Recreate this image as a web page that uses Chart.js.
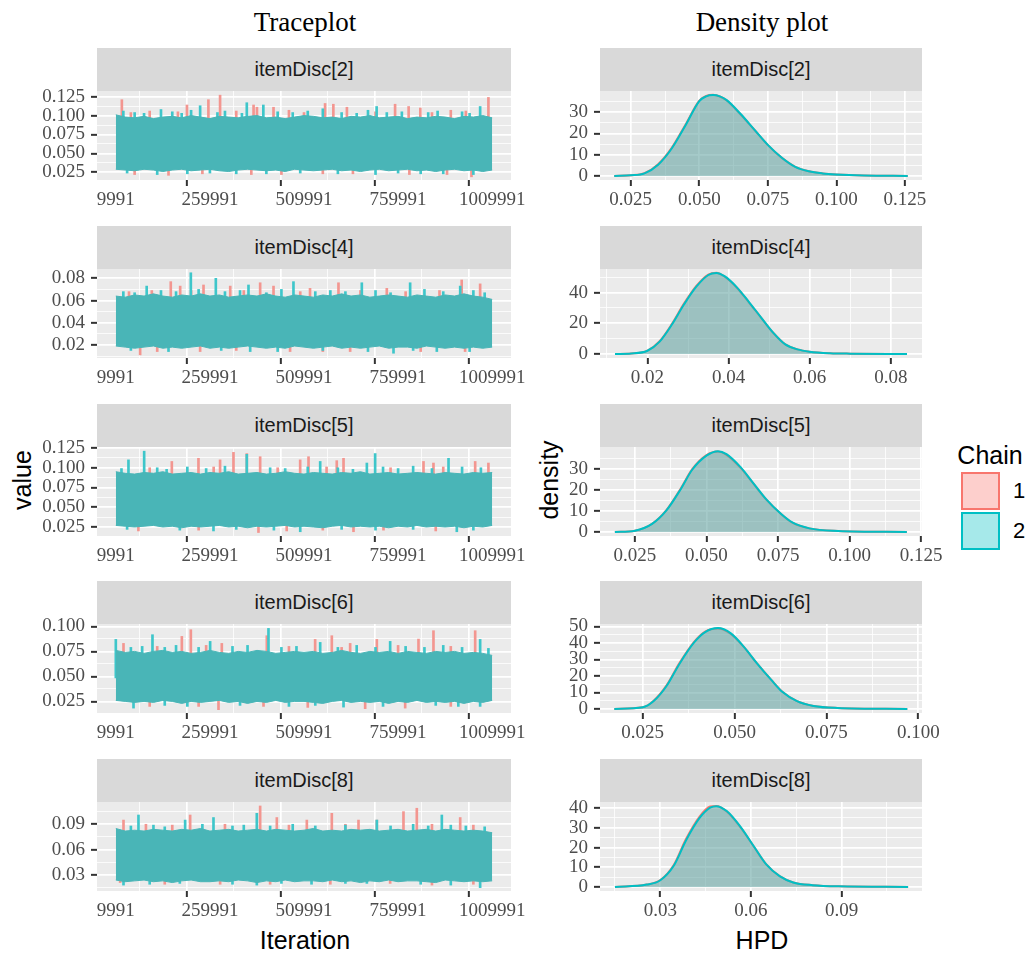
<!DOCTYPE html>
<html>
<head>
<meta charset="utf-8">
<title>Traceplot and density plot</title>
<script src="https://cdn.jsdelivr.net/npm/chart.js@4.4.1/dist/chart.umd.min.js"></script>
<style>
  body { margin: 0; width: 1031px; height: 954px; position: relative; overflow: hidden; background: #fff; font-family: "Liberation Sans", Arial, sans-serif; }
  canvas { position: absolute; }
  .lbl { position: absolute; white-space: nowrap; transform: translate(-50%, -50%); color: #000; }
  .title { font-family: "Liberation Serif", serif; font-size: 27px; }
  .axt { font-size: 25px; }
  .strip { position: absolute; height: 43px; line-height: 43px; background: #D9D9D9; color: #1A1A1A; font-size: 20px; text-align: center; }
  .key { position: absolute; width: 35px; height: 34px; border: 2px solid; }
</style>
</head>
<body>
<div class="lbl title" style="left:305px;top:22px">Traceplot</div>
<div class="lbl title" style="left:762px;top:22px">Density plot</div>
<div class="lbl axt" style="left:22px;top:480px;transform:translate(-50%,-50%) rotate(-90deg)">value</div>
<div class="lbl axt" style="left:549px;top:480px;transform:translate(-50%,-50%) rotate(-90deg)">density</div>
<div class="lbl axt" style="left:305px;top:940px">Iteration</div>
<div class="lbl axt" style="left:762px;top:940px">HPD</div>
<div class="lbl axt" style="left:990px;top:455px">Chain</div>
<div class="key" style="left:961px;top:472px;background:rgba(248,118,109,0.35);border-color:#F8766D"></div>
<div class="key" style="left:961px;top:512px;background:rgba(0,191,196,0.35);border-color:#00BFC4"></div>
<div class="lbl" style="left:1019px;top:491px;font-size:22px">1</div>
<div class="lbl" style="left:1019px;top:531px;font-size:22px">2</div>
<script>
const panelNames = ["itemDisc[2]", "itemDisc[4]", "itemDisc[5]", "itemDisc[6]", "itemDisc[8]"];

const iterGrid = [9991, 34991, 59991, 84991, 109991, 134991, 159991, 184991, 209991, 234991,
  259991, 284991, 309991, 334991, 359991, 384991, 409991, 434991, 459991, 484991,
  509991, 534991, 559991, 584991, 609991, 634991, 659991, 684991, 709991, 734991,
  759991, 784991, 809991, 834991, 859991, 884991, 909991, 934991, 959991, 984991, 1009991];
const iterTicks = ["9991", "259991", "509991", "759991", "1009991"];

// upper / lower edge of the solid trace band
const bandHi2 = [0.101,0.098,0.097,0.099,0.096,0.098,0.099,0.097,0.100,0.098,0.096,0.099,0.098,0.097,0.099,0.100,0.097,0.098,0.096,0.098,0.100,0.099,0.097,0.098,0.096,0.099,0.098,0.100,0.097,0.098,0.099,0.096,0.098,0.097,0.099,0.098,0.096,0.099,0.098,0.100,0.097];
const bandLo2 = [0.029,0.028,0.027,0.029,0.028,0.026,0.028,0.029,0.027,0.028,0.029,0.027,0.026,0.028,0.029,0.028,0.027,0.028,0.026,0.029,0.028,0.027,0.028,0.029,0.027,0.028,0.026,0.028,0.029,0.027,0.028,0.029,0.027,0.028,0.026,0.028,0.029,0.027,0.028,0.026,0.028];
const bandHi4 = [0.064,0.063,0.065,0.064,0.066,0.064,0.063,0.065,0.064,0.066,0.064,0.065,0.063,0.064,0.065,0.064,0.066,0.064,0.063,0.065,0.064,0.063,0.065,0.064,0.066,0.064,0.065,0.063,0.064,0.065,0.064,0.063,0.065,0.064,0.063,0.065,0.064,0.066,0.064,0.063,0.061];
const bandLo4 = [0.019,0.018,0.017,0.018,0.019,0.017,0.018,0.017,0.018,0.019,0.017,0.018,0.017,0.018,0.019,0.018,0.017,0.018,0.017,0.019,0.018,0.017,0.018,0.019,0.017,0.018,0.017,0.018,0.019,0.017,0.018,0.018,0.017,0.019,0.018,0.017,0.018,0.017,0.018,0.017,0.018];
const bandHi5 = [0.095,0.093,0.092,0.094,0.093,0.095,0.092,0.093,0.094,0.092,0.094,0.093,0.095,0.092,0.093,0.094,0.092,0.093,0.095,0.093,0.092,0.094,0.093,0.092,0.094,0.093,0.095,0.092,0.093,0.094,0.092,0.093,0.094,0.093,0.092,0.094,0.093,0.092,0.094,0.093,0.094];
const bandLo5 = [0.027,0.026,0.025,0.026,0.027,0.025,0.026,0.024,0.026,0.025,0.026,0.027,0.025,0.026,0.024,0.026,0.025,0.026,0.027,0.025,0.026,0.025,0.024,0.026,0.027,0.025,0.026,0.025,0.026,0.024,0.026,0.025,0.027,0.025,0.026,0.025,0.026,0.024,0.026,0.025,0.027];
const bandHi6 = [0.076,0.074,0.075,0.073,0.075,0.076,0.074,0.075,0.073,0.074,0.076,0.074,0.073,0.075,0.074,0.076,0.075,0.073,0.074,0.075,0.074,0.075,0.073,0.074,0.076,0.074,0.073,0.075,0.074,0.075,0.073,0.075,0.074,0.073,0.075,0.074,0.075,0.073,0.074,0.073,0.071];
const bandLo6 = [0.026,0.025,0.024,0.025,0.024,0.026,0.025,0.023,0.025,0.024,0.025,0.026,0.024,0.025,0.023,0.025,0.024,0.026,0.024,0.025,0.025,0.024,0.023,0.025,0.026,0.024,0.025,0.024,0.025,0.023,0.025,0.024,0.026,0.024,0.025,0.024,0.025,0.023,0.025,0.024,0.026];
const bandHi8 = [0.085,0.082,0.083,0.082,0.084,0.083,0.082,0.084,0.083,0.085,0.082,0.083,0.084,0.082,0.083,0.084,0.082,0.084,0.083,0.082,0.083,0.085,0.082,0.083,0.082,0.084,0.083,0.084,0.082,0.083,0.084,0.082,0.083,0.084,0.082,0.084,0.083,0.082,0.083,0.082,0.080];
const bandLo8 = [0.024,0.022,0.023,0.024,0.022,0.023,0.021,0.023,0.024,0.022,0.022,0.023,0.022,0.024,0.023,0.021,0.023,0.022,0.024,0.022,0.023,0.023,0.022,0.024,0.022,0.023,0.021,0.023,0.022,0.024,0.022,0.023,0.023,0.022,0.021,0.024,0.023,0.022,0.023,0.022,0.023];

// single draws sticking out of the band: [iteration, value]
const redSpikes2 = [[26000,0.121],[50000,0.104],[100000,0.106],[175000,0.105],[199000,0.114],[256000,0.121],[287000,0.127],[330000,0.106],[376000,0.114],[385000,0.111],[429000,0.111],[470000,0.107],[510000,0.104],[566000,0.116],[588000,0.115],[624000,0.111],[700000,0.105],[752000,0.115],[788000,0.112],[819000,0.110],[850000,0.104],[900000,0.107],[940000,0.106],[1000000,0.124],
  [60000,0.022],[150000,0.021],[240000,0.023],[370000,0.022],[450000,0.022],[560000,0.023],[640000,0.023],[790000,0.022],[890000,0.022],[955000,0.019]];
const tealSpikes2 = [[30000,0.106],[60000,0.104],[85000,0.103],[130000,0.108],[160000,0.105],[185000,0.103],[210000,0.107],[234000,0.113],[280000,0.104],[300000,0.106],[345000,0.103],[358000,0.117],[402000,0.114],[440000,0.105],[480000,0.104],[520000,0.106],[560000,0.109],[610000,0.104],[650000,0.103],[680000,0.107],[703000,0.112],[730000,0.104],[770000,0.105],[840000,0.104],[865000,0.106],[930000,0.105],[950000,0.103],[978000,0.112],
  [40000,0.024],[120000,0.022],[200000,0.023],[260000,0.024],[330000,0.023],[410000,0.023],[500000,0.024],[600000,0.023],[700000,0.022],[760000,0.024],[820000,0.023],[880000,0.023],[960000,0.022]];
const redSpikes4 = [[45000,0.068],[105600,0.069],[156000,0.077],[181000,0.073],[210000,0.069],[243000,0.074],[314000,0.073],[350000,0.069],[393500,0.076],[429000,0.073],[500000,0.068],[526000,0.071],[601600,0.076],[660000,0.069],[730000,0.071],[780000,0.068],[870000,0.069],[929000,0.0785],[978000,0.075],
  [74600,0.011],[120000,0.014],[234000,0.014],[330000,0.015],[473000,0.014],[560000,0.014],[632600,0.014],[820000,0.014],[938000,0.014]];
const tealSpikes4 = [[30000,0.068],[60000,0.067],[92000,0.073],[130000,0.069],[170000,0.068],[209300,0.085],[230000,0.070],[275700,0.080],[300000,0.068],[340000,0.069],[362500,0.074],[410000,0.067],[450000,0.070],[482000,0.077],[540000,0.068],[580000,0.069],[620000,0.068],[663600,0.076],[700000,0.069],[740000,0.067],[792000,0.076],[830000,0.070],[880000,0.068],[925000,0.073],[960000,0.069],[990000,0.067],
  [50000,0.015],[150000,0.014],[290000,0.015],[367000,0.014],[440000,0.014],[560000,0.015],[680000,0.014],[747800,0.0125],[800000,0.015],[862900,0.014],[950000,0.014]];
const redSpikes5 = [[100000,0.100],[158800,0.108],[229600,0.112],[270000,0.101],[287000,0.110],[322600,0.1195],[358000,0.118],[393500,0.114],[440000,0.100],[499800,0.110],[522000,0.114],[570000,0.101],[597000,0.109],[615000,0.112],[740000,0.100],[827500,0.108],[854000,0.106],[880000,0.101],[964800,0.108],[1000000,0.106],
  [70000,0.020],[230000,0.021],[389000,0.018],[464000,0.020],[560000,0.021],[641500,0.019],[721200,0.021],[860000,0.020]];
const tealSpikes5 = [[25000,0.099],[43600,0.110],[85300,0.121],[120000,0.100],[145000,0.098],[200000,0.101],[250000,0.099],[300000,0.102],[358000,0.117],[420000,0.100],[460000,0.099],[520000,0.101],[553000,0.108],[600000,0.100],[640000,0.098],[677000,0.106],[699000,0.118],[720000,0.101],[760000,0.099],[800000,0.102],[850000,0.099],[894000,0.112],[930000,0.101],[980000,0.100],
  [40000,0.022],[180000,0.021],[269500,0.020],[330000,0.022],[430000,0.021],[500000,0.019],[610000,0.022],[700000,0.021],[800000,0.022],[916000,0.019],[960000,0.021]];
const redSpikes6 = [[30400,0.083],[120000,0.080],[185400,0.090],[209300,0.0967],[250000,0.081],[291600,0.083],[411200,0.0907],[470000,0.080],[539600,0.087],[583900,0.0907],[610000,0.079],[632600,0.083],[703500,0.087],[760000,0.081],[814200,0.0873],[854000,0.0957],[900000,0.080],[964800,0.0957],
  [100000,0.020],[230000,0.020],[282800,0.0167],[402400,0.020],[520000,0.019],[672500,0.0177],[778800,0.0183],[900000,0.020]];
const tealSpikes6 = [[9991,0.087],[50000,0.079],[80000,0.080],[107400,0.0917],[140000,0.079],[170000,0.081],[230000,0.079],[260600,0.085],[320000,0.080],[360000,0.081],[415600,0.098],[450000,0.079],[490000,0.080],[553000,0.084],[600000,0.079],[650000,0.081],[700000,0.079],[738900,0.085],[780000,0.080],[830000,0.079],[880000,0.081],[930000,0.079],[978000,0.087],[1000000,0.078],
  [57000,0.0183],[140000,0.021],[200000,0.020],[340000,0.021],[470000,0.020],[540000,0.021],[615000,0.0193],[720000,0.020],[860000,0.021],[920000,0.020],[978000,0.020]];
const redSpikes8 = [[30400,0.095],[90000,0.090],[160000,0.089],[207500,0.101],[300000,0.090],[393500,0.1117],[437800,0.098],[470000,0.089],[517500,0.095],[583900,0.103],[620000,0.090],[654800,0.095],[703500,0.095],[774300,0.105],[809700,0.109],[850000,0.090],[925000,0.098],[960000,0.089],
  [21500,0.021],[140000,0.019],[287200,0.019],[420000,0.019],[580000,0.019],[738900,0.020],[850000,0.018],[960000,0.019]];
const tealSpikes8 = [[50000,0.088],[70200,0.101],[110000,0.089],[140000,0.087],[194200,0.095],[240000,0.090],[269500,0.098],[320000,0.088],[350000,0.089],[384600,0.103],[420000,0.088],[480000,0.090],[540000,0.088],[620000,0.089],[703500,0.095],[740000,0.088],[800000,0.090],[840000,0.088],[876200,0.101],[900000,0.089],[940000,0.088],[990000,0.087],
  [30400,0.018],[100000,0.019],[180000,0.020],[320000,0.019],[384600,0.018],[450000,0.020],[530000,0.019],[620000,0.020],[677000,0.020],[820000,0.019],[900000,0.018],[978000,0.015]];

const traceYTicks = [
  ["0.025", "0.050", "0.075", "0.100", "0.125"],
  ["0.02", "0.04", "0.06", "0.08"],
  ["0.025", "0.050", "0.075", "0.100", "0.125"],
  ["0.025", "0.050", "0.075", "0.100"],
  ["0.03", "0.06", "0.09"],
];

// density of the HPD draws, chain 1 and chain 2
const densX2 = [0.019,0.025,0.030,0.035,0.040,0.045,0.050,0.0525,0.055,0.0575,0.060,0.065,0.070,0.075,0.080,0.085,0.090,0.095,0.100,0.110,0.126];
const densA2 = [0,0.3,1.3,5.5,13.3,24.2,35.4,37.6,38.1,37.3,35.4,29,21.8,14.5,8.6,4.3,2.2,1.2,0.7,0.2,0];
const densB2 = [0,0.3,1.2,5.3,13,23.8,35.2,37.4,38,37.4,35.6,29.2,21.9,14.6,8.7,4.3,2.2,1.2,0.7,0.2,0];
const densX4 = [0.012,0.016,0.020,0.023,0.026,0.029,0.032,0.035,0.037,0.039,0.042,0.045,0.048,0.051,0.054,0.057,0.060,0.065,0.070,0.084];
const densA4 = [0,0.3,2.2,8.3,19.5,32.8,44.2,51.8,52.9,50.5,43.3,33.7,23.7,13.8,6.2,3,1.5,0.5,0.2,0];
const densB4 = [0,0.3,2.1,8,19,32.2,43.7,51.5,52.8,50.7,43.6,34,23.9,13.9,6.2,3,1.5,0.5,0.2,0];
const densX5 = [0.018,0.025,0.031,0.036,0.041,0.045,0.050,0.054,0.057,0.062,0.066,0.071,0.076,0.080,0.086,0.096,0.120];
const densA5 = [0,0.6,3.9,10.4,20.6,29.8,36.5,38.2,36.6,30.3,23.6,15.2,8.6,4.4,1.7,0.5,0];
const densB5 = [0,0.6,3.8,10.2,20.3,29.5,36.2,38.3,36.9,30.6,23.8,15.3,8.6,4.5,1.7,0.5,0];
const densX6 = [0.0173,0.025,0.028,0.0315,0.035,0.039,0.042,0.0455,0.049,0.0525,0.056,0.060,0.063,0.067,0.0715,0.078,0.097];
const densA6 = [0,1.0,5.0,14.3,27.8,40.7,46.9,48.8,45.5,37.6,27.9,17.6,10.4,4.7,1.8,0.6,0];
const densB6 = [0,1.0,4.8,13.9,27.3,40.3,46.6,49,45.8,37.8,28,17.6,10.4,4.7,1.8,0.6,0];
const densX8 = [0.015,0.0255,0.030,0.0345,0.0385,0.043,0.0465,0.0485,0.052,0.0565,0.061,0.065,0.0695,0.074,0.0805,0.089,0.112];
const densA8 = [0,1.2,3.5,11.3,24.3,35.7,40.8,41.1,38.3,30.4,20.4,11.6,5.5,2.3,0.9,0.3,0];
const densB8 = [0,1.2,3.4,10.9,23.6,35,40.2,41,38.5,30.6,20.5,11.6,5.5,2.3,0.9,0.3,0];

const densXTicks = [
  ["0.025", "0.050", "0.075", "0.100", "0.125"],
  ["0.02", "0.04", "0.06", "0.08"],
  ["0.025", "0.050", "0.075", "0.100", "0.125"],
  ["0.025", "0.050", "0.075", "0.100"],
  ["0.03", "0.06", "0.09"],
];
const densYTicks = [
  ["0", "10", "20", "30"],
  ["0", "20", "40"],
  ["0", "10", "20", "30"],
  ["0", "10", "20", "30", "40", "50"],
  ["0", "10", "20", "30", "40"],
];

const bandHi = [bandHi2, bandHi4, bandHi5, bandHi6, bandHi8];
const bandLo = [bandLo2, bandLo4, bandLo5, bandLo6, bandLo8];
const redSpikes = [redSpikes2, redSpikes4, redSpikes5, redSpikes6, redSpikes8];
const tealSpikes = [tealSpikes2, tealSpikes4, tealSpikes5, tealSpikes6, tealSpikes8];
const densX = [densX2, densX4, densX5, densX6, densX8];
const densChain1 = [densA2, densA4, densA5, densA6, densA8];
const densChain2 = [densB2, densB4, densB5, densB6, densB8];

// axis limits (ggplot expands the data range a little)
const iterRange = [-40009, 1059991];
const traceYRange = [[0.0148, 0.1325], [0.0082, 0.0884], [0.0136, 0.1263], [0.0134, 0.1024], [0.011, 0.1164]];
const densXRange = [[0.0138, 0.1312], [0.0083, 0.0877], [0.0128, 0.1253], [0.0134, 0.101], [0.01005, 0.1166]];
const densYRange = [[-1.9, 39.9], [-2.64, 55.4], [-1.92, 40.3], [-2.45, 51.5], [-2.05, 43.1]];

const stripTops = [48, 225.75, 403.5, 581.25, 759];
const BAND = "rgb(73,181,183)";
const TEAL_SPIKE = "rgb(62,198,202)";
const RED_SPIKE = "rgb(243,150,144)";

Chart.defaults.font.family = '"Liberation Serif", "Times New Roman", serif';
Chart.defaults.font.size = 19;
Chart.defaults.color = "#4D4D4D";

const panelBg = {
  id: "panelBg",
  beforeDraw(chart) {
    const a = chart.chartArea;
    const c = chart.ctx;
    c.save();
    c.fillStyle = "#EBEBEB";
    c.fillRect(a.left, a.top, a.right - a.left, a.bottom - a.top);
    c.restore();
  },
};

// major ticks from the labels, minor ones half way between
function buildTicks(labels, lo, hi) {
  const vals = labels.map(Number);
  const step = vals[1] - vals[0];
  const out = labels.map((t, i) => ({ value: vals[i], txt: t }));
  for (let i = -1; i < vals.length; i++) {
    const m = vals[0] + step * (i + 0.5);
    if (m > lo && m < hi) out.push({ value: m, txt: "", minor: true });
  }
  return out.sort((a, b) => a.value - b.value);
}

function axis(labels, range, size, isX) {
  return {
    type: "linear",
    min: range[0],
    max: range[1],
    offset: false,
    border: { display: false },
    grid: {
      color: "#FFFFFF",
      lineWidth: (c) => (c.tick && c.tick.minor ? 0.8 : 1.7),
      tickColor: (c) => (c.tick && c.tick.minor ? "rgba(0,0,0,0)" : "#333333"),
      tickLength: 6,
      tickWidth: 2,
    },
    ticks: {
      autoSkip: false,
      maxRotation: 0,
      padding: isX ? 3 : 6,
      callback: (v, i, t) => t[i].txt,
    },
    afterBuildTicks: (s) => {
      s.ticks = buildTicks(labels, range[0], range[1]);
    },
    afterFit: (s) => {
      if (isX) s.height = size;
      else s.width = size;
      s.paddingLeft = s.paddingRight = s.paddingTop = s.paddingBottom = 0;
    },
  };
}

function options(xLabels, xRange, yLabels, yRange, yWidth, padRight) {
  return {
    responsive: false,
    animation: false,
    events: [],
    layout: { padding: { top: 10, right: padRight, bottom: 0, left: 0 } },
    plugins: { legend: { display: false }, tooltip: { enabled: false } },
    scales: {
      x: axis(xLabels, xRange, 35, true),
      y: axis(yLabels, yRange, yWidth, false),
    },
  };
}

function addStrip(left, top, width, text) {
  const d = document.createElement("div");
  d.className = "strip";
  d.style.left = left + "px";
  d.style.top = top + "px";
  d.style.width = width + "px";
  d.textContent = text;
  document.body.appendChild(d);
}

function addCanvas(left, top, w, h) {
  const c = document.createElement("canvas");
  c.width = w;
  c.height = h;
  c.style.left = left + "px";
  c.style.top = top + "px";
  document.body.appendChild(c);
  return c;
}

function traceChart(i) {
  const top = stripTops[i] + 43;
  addStrip(97, stripTops[i], 414, panelNames[i]);
  const cv = addCanvas(27, top - 10, 500, 134);
  const hi = bandHi[i];
  const lo = bandLo[i];
  const mid = (Math.max(...lo) + Math.min(...hi)) / 2;
  const spikes = (pairs, color, order) => ({
    type: "bar",
    order: order,
    grouped: false,
    barThickness: 2,
    borderWidth: 0,
    backgroundColor: color,
    data: pairs.map((p) => ({ x: p[0], y: [mid, p[1]] })),
  });
  new Chart(cv, {
    type: "line",
    data: {
      datasets: [
        spikes(redSpikes[i], RED_SPIKE, 4),
        spikes(tealSpikes[i], TEAL_SPIKE, 3),
        {
          data: iterGrid.map((x, k) => ({ x: x, y: hi[k] })),
          borderColor: BAND, backgroundColor: BAND, borderWidth: 1,
          pointRadius: 0, tension: 0, fill: "+1", order: 2,
        },
        {
          data: iterGrid.map((x, k) => ({ x: x, y: lo[k] })),
          borderColor: BAND, borderWidth: 1,
          pointRadius: 0, tension: 0, fill: false, order: 2,
        },
      ],
    },
    options: options(iterTicks, iterRange, traceYTicks[i], traceYRange[i], 70, 16),
    plugins: [panelBg],
  });
}

function densityChart(i) {
  const top = stripTops[i] + 43;
  addStrip(600, stripTops[i], 322, panelNames[i]);
  const cv = addCanvas(555, top - 10, 390, 134);
  const curve = (ys, color, fillColor, order) => ({
    data: densX[i].map((x, k) => ({ x: x, y: ys[k] })),
    borderColor: color,
    backgroundColor: fillColor,
    borderWidth: 2,
    pointRadius: 0,
    fill: "origin",
    cubicInterpolationMode: "monotone",
    order: order,
  });
  new Chart(cv, {
    type: "line",
    data: {
      datasets: [
        curve(densChain1[i], "#F8766D", "rgba(248,118,109,0.35)", 2),
        curve(densChain2[i], "#00BFC4", "rgba(0,191,196,0.35)", 1),
      ],
    },
    options: options(densXTicks[i], densXRange[i], densYTicks[i], densYRange[i], 45, 23),
    plugins: [panelBg],
  });
}

for (let i = 0; i < panelNames.length; i++) {
  traceChart(i);
  densityChart(i);
}
</script>
</body>
</html>
